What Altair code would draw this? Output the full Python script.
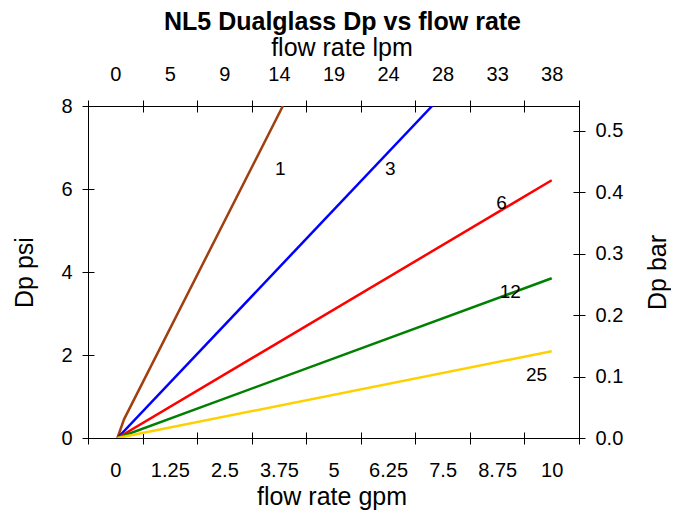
import altair as alt
import pandas as pd

FONT = "Liberation Sans"

# ---- data ----
series = ["1", "3", "6", "12", "25"]
colors = ["#a0400f", "#0000ff", "#ff0000", "#008000", "#ffd000"]

gpm_1 = [0.05, 0.2, 3.84]
psi_1 = [0.0, 0.45, 8.0]
gpm_3 = [0.05, 7.26]
psi_3 = [0.0, 8.0]
gpm_6 = [0.05, 10.0]
psi_6 = [0.0, 6.21]
gpm_12 = [0.05, 10.0]
psi_12 = [0.0, 3.85]
gpm_25 = [0.05, 10.0]
psi_25 = [0.0, 2.09]

label_gpm = [3.78, 6.30, 8.85, 9.05, 9.65]
label_psi = [6.47, 6.47, 5.66, 3.53, 1.52]

x_ticks = [-0.625, 0.625, 1.875, 3.125, 4.375, 5.625, 6.875, 8.125, 9.375, 10.625]
psi_ticks = [0, 2, 4, 6, 8]
bar_ticks = [0.0, 0.1, 0.2, 0.3, 0.4, 0.5]
PSI_PER_BAR = 14.8
LPM_PER_GPM = 3.785411784

rows = []
for s, xs, ys in zip(series, [gpm_1, gpm_3, gpm_6, gpm_12, gpm_25],
                     [psi_1, psi_3, psi_6, psi_12, psi_25]):
    for i, (a, b) in enumerate(zip(xs, ys)):
        rows.append({"series": s, "gpm": a, "psi": b, "i": i})
df_lines = pd.DataFrame(rows)
df_labels = pd.DataFrame({"label": series, "gpm": label_gpm, "psi": label_psi})
df_xt = pd.DataFrame({"gpm": x_ticks})
df_bar = pd.DataFrame({"psi": [b * PSI_PER_BAR for b in bar_ticks]})

xscale = alt.Scale(domain=[-0.625, 10.625], nice=False, zero=False)
yscale = alt.Scale(domain=[0, 8], nice=False, zero=False)

W, H = 491, 332
HALF_STEP_PX = W / 11.25 * 0.625

common = dict(
    tickSize=12, offset=-6, domain=False, grid=False, tickColor="black",
    tickWidth=1, labelColor="black", labelFont=FONT, labelFontSize=20,
    titleFont=FONT, titleFontSize=25, titleFontWeight="normal",
    titleColor="black", labelOverlap=False, labelFlush=False,
)

bottom_axis = alt.Axis(
    values=x_ticks, orient="bottom",
    labelExpr="datum.value > 10.6 ? '' : format(datum.value + 0.625, '~g')",
    labelOffset=HALF_STEP_PX, labelPadding=16, title="flow rate gpm",
    titlePadding=4, titleX=W / 2 - 2, **common)
top_axis = alt.Axis(
    values=x_ticks, orient="top",
    labelExpr="datum.value > 10.6 ? '' : format(round((datum.value + 0.625) * %f), 'd')" % LPM_PER_GPM,
    labelOffset=HALF_STEP_PX, labelPadding=16, title="flow rate lpm",
    titlePadding=4, titleX=W / 2 + 8, **common)
left_axis = alt.Axis(
    values=psi_ticks, orient="left", labelPadding=10, title="Dp psi",
    titlePadding=23, **common)
right_axis = alt.Axis(
    values=[b * PSI_PER_BAR for b in bar_ticks], orient="right",
    labelExpr="format(datum.value / %f, '.1f')" % PSI_PER_BAR,
    labelPadding=10, title="Dp bar", titleAngle=270, titlePadding=48, **common)

lines = alt.Chart(df_lines).mark_line(strokeWidth=2.5, clip=True).encode(
    x=alt.X("gpm:Q", scale=xscale, axis=bottom_axis),
    y=alt.Y("psi:Q", scale=yscale, axis=left_axis),
    color=alt.Color("series:N", scale=alt.Scale(domain=series, range=colors), legend=None),
    order="i:Q",
)

texts = alt.Chart(df_labels).mark_text(font=FONT, fontSize=19, color="black").encode(
    x=alt.X("gpm:Q", scale=xscale, axis=None),
    y=alt.Y("psi:Q", scale=yscale, axis=None),
    text="label:N",
)

top = alt.Chart(df_xt).mark_point(opacity=0).encode(
    x=alt.X("gpm:Q", scale=xscale, axis=top_axis),
)

right = alt.Chart(df_bar).mark_point(opacity=0).encode(
    y=alt.Y("psi:Q", scale=yscale, axis=right_axis),
)

chart = alt.layer(lines, texts, top, right).resolve_axis(
    x="independent", y="independent"
).properties(
    width=W, height=H,
    title=alt.TitleParams("NL5 Dualglass Dp vs flow rate", font=FONT, fontSize=25,
                          fontWeight="bold", color="black", anchor="middle",
                          offset=0, dx=9),
    padding={"left": 80, "top": 98, "right": 92, "bottom": 74},
    autosize="none",
).configure_view(stroke="black", strokeWidth=1)

chart.save("out.html", embed_options={"renderer": "svg", "actions": False})
